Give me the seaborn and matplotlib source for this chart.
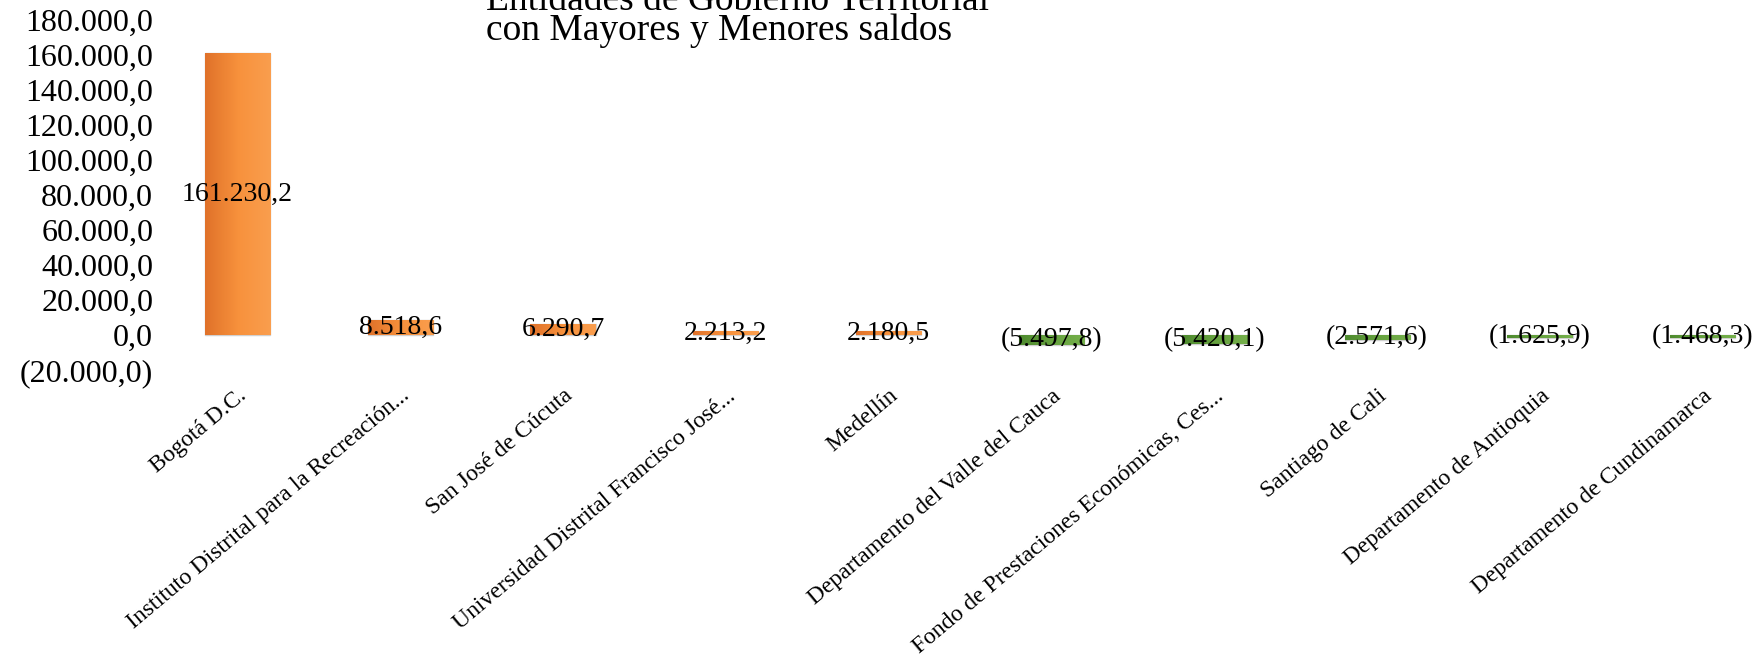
import numpy as np
import matplotlib
matplotlib.use("Agg")
import matplotlib.pyplot as plt
import matplotlib.colors as mcolors
import seaborn as sns

# datos
categorias = ["Bogotá D.C.",
              "Instituto Distrital para la Recreación...",
              "San José de Cúcuta",
              "Universidad Distrital Francisco José...",
              "Medellín",
              "Departamento del Valle del Cauca",
              "Fondo de Prestaciones Económicas, Ces...",
              "Santiago de Cali",
              "Departamento de Antioquia",
              "Departamento de Cundinamarca"]
saldos = [161230.2, 8518.6, 6290.7, 2213.2, 2180.5,
          -5497.8, -5420.1, -2571.6, -1625.9, -1468.3]
y_ticks = list(range(-20000, 180001, 20000))
titulo = "Entidades de Gobierno Territorial\ncon Mayores y Menores saldos"


def fmt(v):
    s = f"{abs(v):,.1f}".replace(",", "X").replace(".", ",").replace("X", ".")
    return f"({s})" if v < 0 else s


sns.set_style("white")
plt.rcParams["font.family"] = ["Liberation Serif", "DejaVu Serif"]
plt.rcParams["text.color"] = "black"
plt.rcParams["xtick.color"] = "black"
plt.rcParams["ytick.color"] = "black"

fig = plt.figure(figsize=(17.63, 6.65), dpi=100)
ax = fig.add_axes([156 / 1763, 1 - 370 / 665, 1 - 156 / 1763, 350 / 665])

naranja = ["#E0722A", "#F7913C", "#FA9E4E"]
verde = ["#4E8A2E", "#66A23F", "#75B04B"]
colores = ["#F7913C" if v >= 0 else "#66A23F" for v in saldos]

sns.barplot(x=categorias, y=saldos, hue=categorias, palette=colores,
            legend=False, width=0.4, edgecolor="#D0D0D0", linewidth=1.0,
            saturation=1, ax=ax)

# degradado horizontal dentro de cada barra
for patch, v in zip(ax.patches, saldos):
    cmap = mcolors.LinearSegmentedColormap.from_list("g", naranja if v >= 0 else verde)
    x0, y0 = patch.get_x(), patch.get_y()
    w, h = patch.get_width(), patch.get_height()
    grad = np.linspace(0, 1, 64).reshape(1, -1)
    im = ax.imshow(grad, cmap=cmap, aspect="auto", zorder=patch.get_zorder() + 0.1,
                   extent=[x0, x0 + w, min(y0, y0 + h), max(y0, y0 + h)])
    im.set_clip_path(patch)

for i, v in enumerate(saldos):
    ax.text(i, v / 2, fmt(v), ha="center", va="center", fontsize=20,
            color="black", zorder=5)

ax.set_xlim(-0.5, 9.37)
ax.set_ylim(-20000, 180000)
ax.set_yticks(y_ticks)
ax.set_yticklabels([fmt(t) for t in y_ticks], fontsize=23)
ax.tick_params(axis="y", length=0, pad=2)
ax.tick_params(axis="x", length=0, pad=11)
plt.setp(ax.get_xticklabels(), rotation=40, ha="right", rotation_mode="anchor",
         fontsize=17)
for s in ax.spines.values():
    s.set_visible(False)
ax.grid(False)

fig.text(486 / 1763, 1 - 48 / 665, titulo, fontsize=27, ha="left", va="bottom",
         linespacing=0.8)

fig.savefig("out.png", dpi=100)
